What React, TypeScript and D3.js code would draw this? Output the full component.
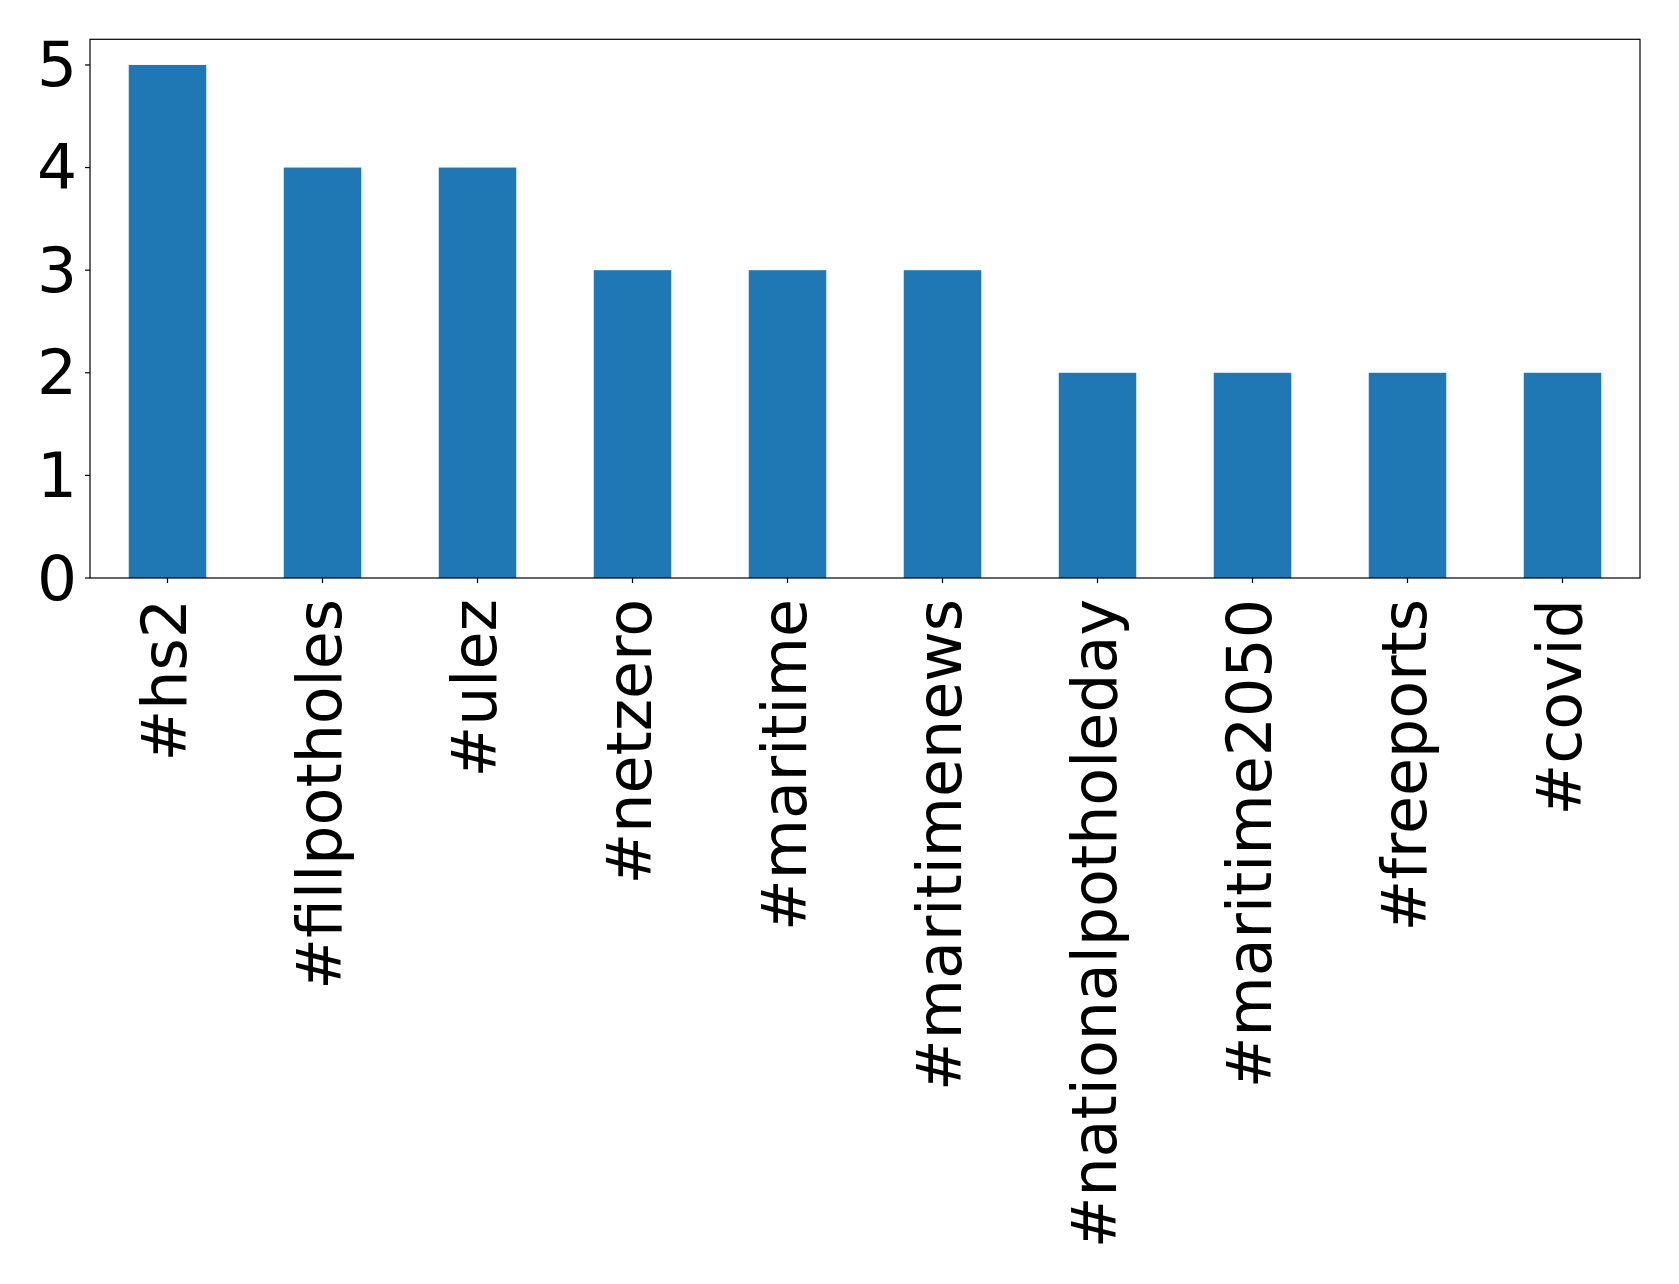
import React from "react";
import * as d3 from "d3";

const categories = ["#hs2", "#fillpotholes", "#ulez", "#netzero", "#maritime", "#maritimenews", "#nationalpotholeday", "#maritime2050", "#freeports", "#covid"];
const counts = [5, 4, 4, 3, 3, 3, 2, 2, 2, 2];
const yTicks = [0, 1, 2, 3, 4, 5];

const W = 1679, H = 1284;
const left = 90, right = 1640, top = 39.3, bottom = 578;
const FSX = 61.8;
const FSY = 63;

export default function App() {
  const x = d3.scaleLinear().domain([-0.5, categories.length - 0.5]).range([left, right]);
  const y = d3.scaleLinear().domain([0, 5.25]).range([bottom, top]);
  const bw = x(0.25) - x(-0.25);
  return (
    <svg width={W} height={H} style={{ position: "absolute", left: 0, top: 0, background: "#fff" }} fontFamily="DejaVu Sans">
      <rect x={0} y={0} width={W} height={H} fill="#fff" />
      {counts.map((v, i) => (
        <rect key={i} x={x(i) - bw / 2} y={y(v)} width={bw} height={y(0) - y(v)} fill="#1f77b4" />
      ))}
      <rect x={left} y={top} width={right - left} height={bottom - top} fill="none" stroke="#000" strokeWidth={1.2} />
      {yTicks.map((t) => (
        <g key={t}>
          <line x1={left - 5} x2={left} y1={y(t)} y2={y(t)} stroke="#000" strokeWidth={1.2} />
          <text x={left - 13} y={y(t)} textAnchor="end" dominantBaseline="central" fontSize={FSY} fill="#000">{t}</text>
        </g>
      ))}
      {categories.map((c, i) => (
        <g key={c}>
          <line x1={x(i)} x2={x(i)} y1={bottom} y2={bottom + 5} stroke="#000" strokeWidth={1.2} />
          <text transform={`translate(${x(i) - 3},${bottom + 21}) rotate(-90)`} textAnchor="end" dominantBaseline="central" fontSize={FSX} fill="#000">{c}</text>
        </g>
      ))}
    </svg>
  );
}
